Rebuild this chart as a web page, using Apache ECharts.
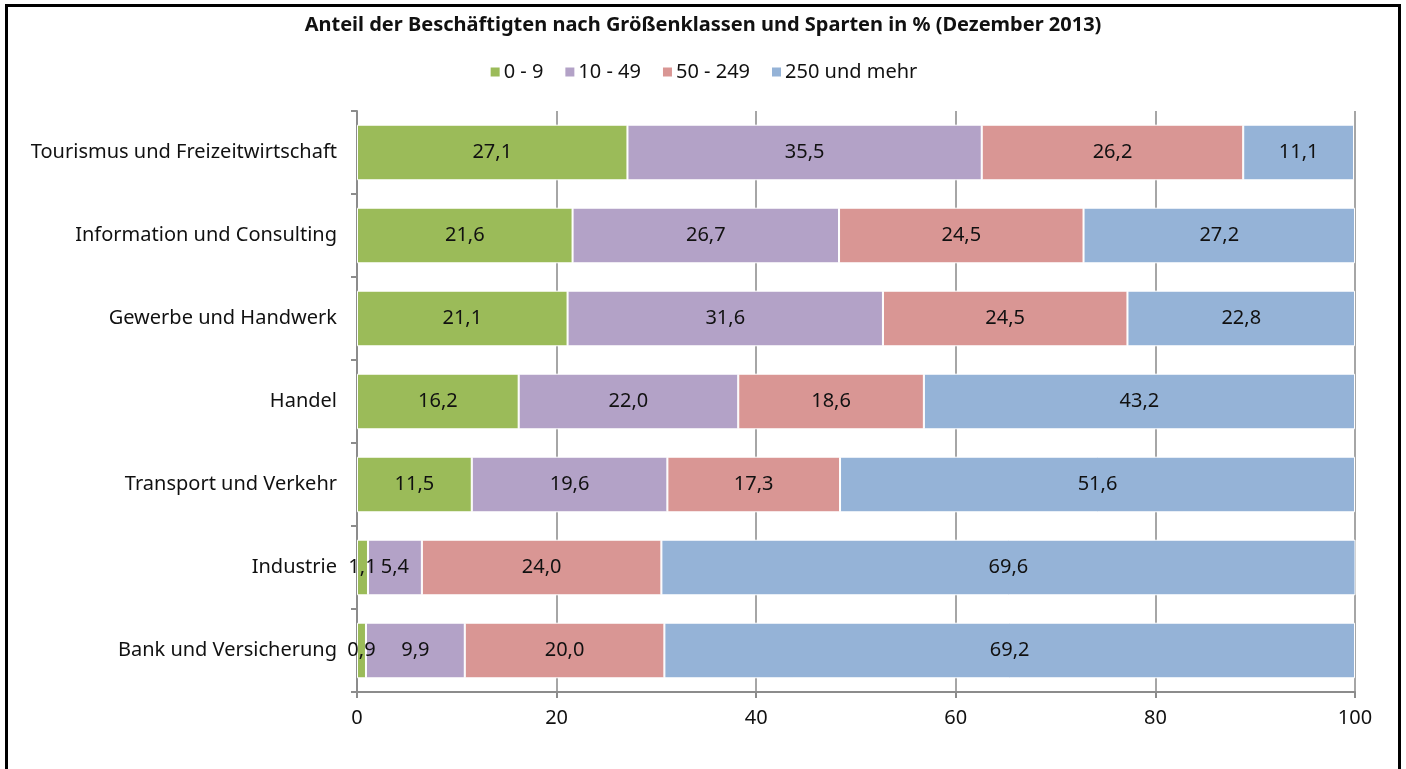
<!DOCTYPE html>
<html>
<head>
<meta charset="utf-8">
<script src="https://cdn.jsdelivr.net/npm/echarts@6/dist/echarts.min.js"></script>
<style>
  html, body { margin: 0; padding: 0; background: #fff; }
  #chart { width: 1406px; height: 769px; }
  #frame {
    position: absolute; left: 5px; top: 4px; width: 1390px; height: 800px;
    border: 3px solid #000; pointer-events: none;
  }
</style>
</head>
<body>
<div id="chart"></div>
<div id="frame"></div>
<script>
// Anteil der Beschäftigten nach Größenklassen und Sparten (Dez. 2013)
const categories = [
  'Tourismus und Freizeitwirtschaft',
  'Information und Consulting',
  'Gewerbe und Handwerk',
  'Handel',
  'Transport und Verkehr',
  'Industrie',
  'Bank und Versicherung',
];
const sizeClasses = ['0 - 9', '10 - 49', '50 - 249', '250 und mehr'];
const small = [27.1, 21.6, 21.1, 16.2, 11.5, 1.1, 0.9];
const medSmall = [35.5, 26.7, 31.6, 22.0, 19.6, 5.4, 9.9];
const medium = [26.2, 24.5, 24.5, 18.6, 17.3, 24.0, 20.0];
const large = [11.1, 27.2, 22.8, 43.2, 51.6, 69.6, 69.2];
const xTicks = [0, 20, 40, 60, 80, 100];

const COLORS = ['#9bbb59', '#b3a2c7', '#d99694', '#95b3d7'];
const AXIS = '#8c8c8c';
const GRID = '#a6a6a6';
const FONT = '"Noto Sans", sans-serif';
const FS = 20;

const chart = echarts.init(document.getElementById('chart'));
const fmt = (p) => p.value.toFixed(1).replace('.', ',');

chart.setOption({
  animation: false,
  color: COLORS,
  textStyle: { fontFamily: FONT },
  title: {
    text: 'Anteil der Beschäftigten nach Größenklassen und Sparten in % (Dezember 2013)',
    left: 'center', top: 10,
    textStyle: { fontSize: 20, fontWeight: 'bold', color: '#111', fontFamily: FONT },
  },
  legend: {
    top: 57, left: 'center',
    itemWidth: 11, itemHeight: 11, itemGap: 20,
    icon: 'rect',
    textStyle: { fontSize: FS, color: '#111', fontFamily: FONT, padding: [0, 0, 0, -2] },
    data: sizeClasses,
  },
  grid: { left: 357, right: 51, top: 111, bottom: 77 },
  xAxis: {
    type: 'value', min: 0, max: 100, interval: 20,
    axisLine: { show: true, lineStyle: { color: AXIS, width: 2 } },
    axisTick: { show: true, length: 6, lineStyle: { color: AXIS, width: 2 } },
    axisLabel: { color: '#111', fontSize: FS, margin: 16, fontFamily: FONT,
      formatter: (v) => xTicks.includes(v) ? String(v) : '' },
    splitLine: { show: true, lineStyle: { color: GRID, width: 2 } },
  },
  yAxis: {
    type: 'category', inverse: true, data: categories,
    axisLine: { show: true, lineStyle: { color: AXIS, width: 2 } },
    axisTick: { show: true, length: 6, lineStyle: { color: AXIS, width: 2 } },
    axisLabel: { color: '#111', fontSize: FS, margin: 20, fontFamily: FONT },
  },
  series: [small, medSmall, medium, large].map((data, i) => ({
    name: sizeClasses[i],
    type: 'bar',
    stack: 'total',
    data,
    barCategoryGap: '33%',
    itemStyle: { color: COLORS[i], borderColor: '#fff', borderWidth: 1 },
    label: {
      show: true, position: 'inside', color: '#111', fontSize: FS,
      fontFamily: FONT, formatter: fmt,
    },
  })),
});
</script>
</body>
</html>
